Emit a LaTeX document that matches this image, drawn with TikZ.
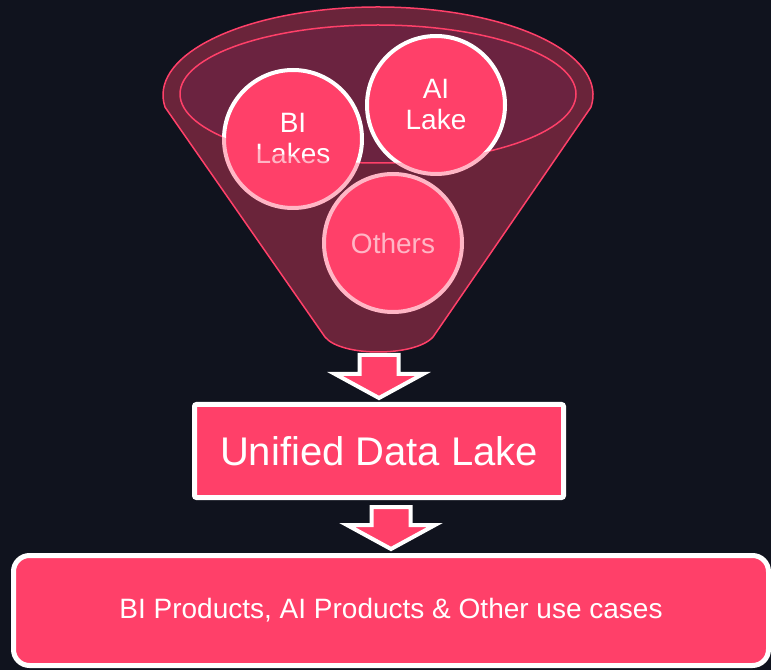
\documentclass[tikz,border=0pt]{standalone}
\usepackage{fontspec}
\setmainfont{Liberation Sans}
\usetikzlibrary{calc}

\definecolor{bgnavy}{RGB}{16,19,30}
\definecolor{lakepink}{RGB}{255,64,105}
\definecolor{funnelred}{RGB}{107,35,64}

\newcommand{\downblock}[2]{%
  \draw[blk] let \p1=(#1), \p2=(#2) in
    (\x2-19.5pt,\y1) -- (\x2-19.5pt,\y2+24pt) -- (\x2-44pt,\y2+24pt) -- (\x2,\y2)
    -- (\x2+44pt,\y2+24pt) -- (\x2+19.5pt,\y2+24pt) -- (\x2+19.5pt,\y1) -- cycle;}

\begin{document}
\begin{tikzpicture}[
  x=1pt, y=1pt,
  lake/.style={circle, draw=white, line width=4pt, fill=lakepink, minimum size=138pt,
    inner sep=0pt, text=white, align=center, font=\fontsize{28}{31}\selectfont},
  stage/.style={draw=white, line width=5pt, fill=lakepink, text=white, inner sep=0pt},
  blk/.style={draw=white, line width=4pt, fill=lakepink, line join=miter},
  rim/.style={draw=lakepink, line width=1.5pt},
]

\def\fx{378}
\def\fy{575}

\fill[bgnavy] (0,0) rectangle (771,670);
\useasboundingbox (0,0) rectangle (771,670);

\node[stage, rounded corners=2pt, minimum width=369pt, minimum height=93pt,
  font=\fontsize{40}{48}\selectfont] (udl) at (379,219) {Unified Data Lake};
\node[stage, rounded corners=16pt, minimum width=755pt, minimum height=110pt,
  font=\fontsize{28}{33}\selectfont] (use) at (391,59.5) {BI Products, AI Products \& Other use cases};

\coordinate (fbot) at (\fx,315);

\downblock{fbot}{$(udl.north)+(0,4)$}
\downblock{$(udl.south)+(0,-7)$}{$(use.north)+(0,4)$}

% funnel opening
\draw[rim, fill=funnelred] (\fx,576) ellipse [x radius=198, y radius=69];

\node[lake] (bi) at (293,531) {BI\\Lakes};
\node[lake] (ai) at (436,565) {AI\\Lake};
\node[lake] (oth) at (393,427) {Others};

% funnel body over the lakes
\fill[lakepink, fill opacity=0.38, even odd rule]
  (\fx,\fy) ++(-8:215 and 88) arc [start angle=-8, end angle=188, x radius=215, y radius=88]
  -- (325,333) .. controls (341,313) and (415,313) .. (433,333) -- cycle
  (\fx,576) ellipse [x radius=198, y radius=69];
\draw[rim]
  (\fx,\fy) ++(-8:215 and 88) arc [start angle=-8, end angle=188, x radius=215, y radius=88]
  -- (325,333) .. controls (341,313) and (415,313) .. (433,333) -- cycle;

\end{tikzpicture}
\end{document}
